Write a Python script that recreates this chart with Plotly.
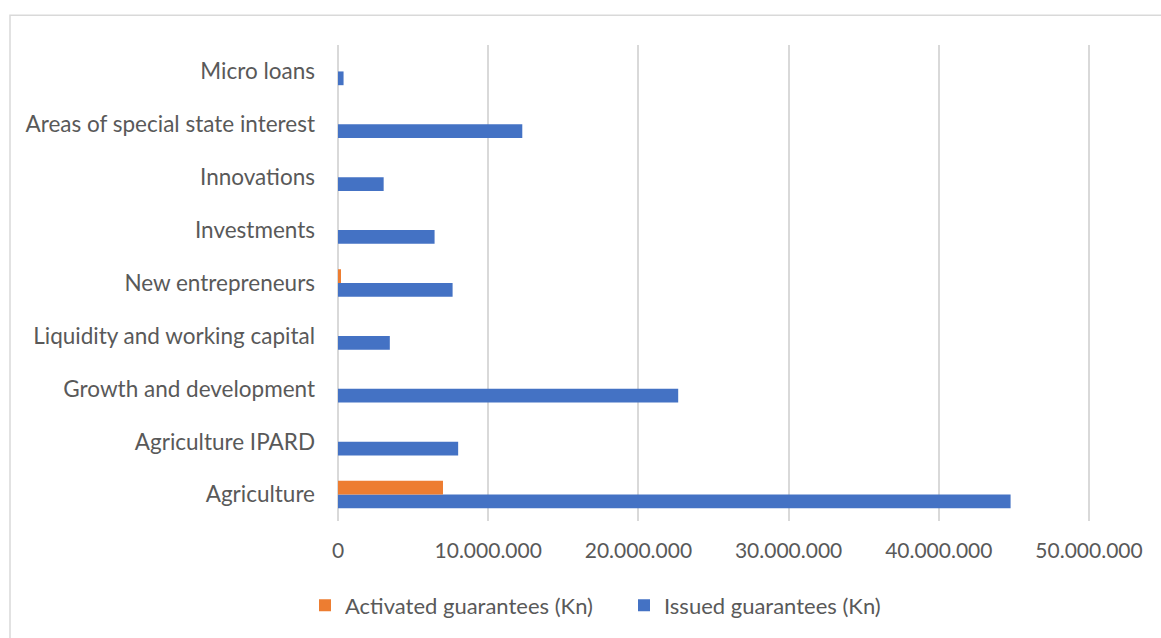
import plotly.graph_objects as go

# Guarantee programmes, listed bottom to top
programmes = [
    "Agriculture",
    "Agriculture IPARD",
    "Growth and development",
    "Liquidity and working capital",
    "New entrepreneurs",
    "Investments",
    "Innovations",
    "Areas of special state interest",
    "Micro loans",
]

# Amounts in kuna
issued = [44780000, 8000000, 22650000, 3450000, 7630000, 6430000, 3040000, 12270000, 370000]
activated = [6990000, 0, 0, 0, 200000, 0, 0, 0, 0]

tick_vals = [0, 10000000, 20000000, 30000000, 40000000, 50000000]
tick_text = ["0", "10.000.000", "20.000.000", "30.000.000", "40.000.000", "50.000.000"]

FONT = "Lato"
TEXT = "#595959"
GRID = "#D9D9D9"

fig = go.Figure()
fig.add_trace(go.Bar(
    y=programmes, x=issued, orientation="h",
    name="Issued guarantees (Kn)", marker=dict(color="#4472C4", line_width=0),
    legendrank=2,
))
fig.add_trace(go.Bar(
    y=programmes, x=activated, orientation="h",
    name="Activated guarantees (Kn)", marker=dict(color="#ED7D31", line_width=0),
    legendrank=1,
))

W, H = 1161, 638
L, R, T, B = 338, 69, 45, 114
pw, ph = W - L - R, H - T - B
x_max = 50200000

fig.update_layout(
    width=W, height=H,
    margin=dict(l=L, r=R, t=T, b=B, pad=0),
    paper_bgcolor="white", plot_bgcolor="white",
    barmode="group", bargap=0.48, bargroupgap=0,
    font=dict(family=FONT, size=22, color=TEXT),
    showlegend=True,
    legend=dict(
        orientation="h", x=(624 - L) / pw, xanchor="center",
        y=-(609 - (T + ph)) / ph, yanchor="middle",
        font=dict(family=FONT, size=22, color=TEXT),
        itemwidth=30, traceorder="normal",
        entrywidth=274,
    ),
    xaxis=dict(
        range=[0, x_max], tickvals=tick_vals, ticktext=tick_text,
        showgrid=True, gridcolor=GRID, gridwidth=1.5,
        zeroline=True, zerolinecolor=GRID, zerolinewidth=1.5,
        showline=False, ticks="",
        ticklabelstandoff=15,
        tickfont=dict(family=FONT, size=21, color=TEXT),
    ),
    yaxis=dict(
        type="category", categoryorder="array", categoryarray=programmes,
        showgrid=False, zeroline=False, showline=False, ticks="",
        ticklabelstandoff=22,
        tickfont=dict(family=FONT, size=22.5, color=TEXT),
    ),
    shapes=[dict(
        type="rect", xref="paper", yref="paper",
        x0=(10 - L) / pw, x1=1.5, y0=-0.5, y1=(T + ph - 15) / ph,
        line=dict(color=GRID, width=1.5), fillcolor="rgba(0,0,0,0)",
        layer="below",
    )],
)

fig.write_html("out.html")
